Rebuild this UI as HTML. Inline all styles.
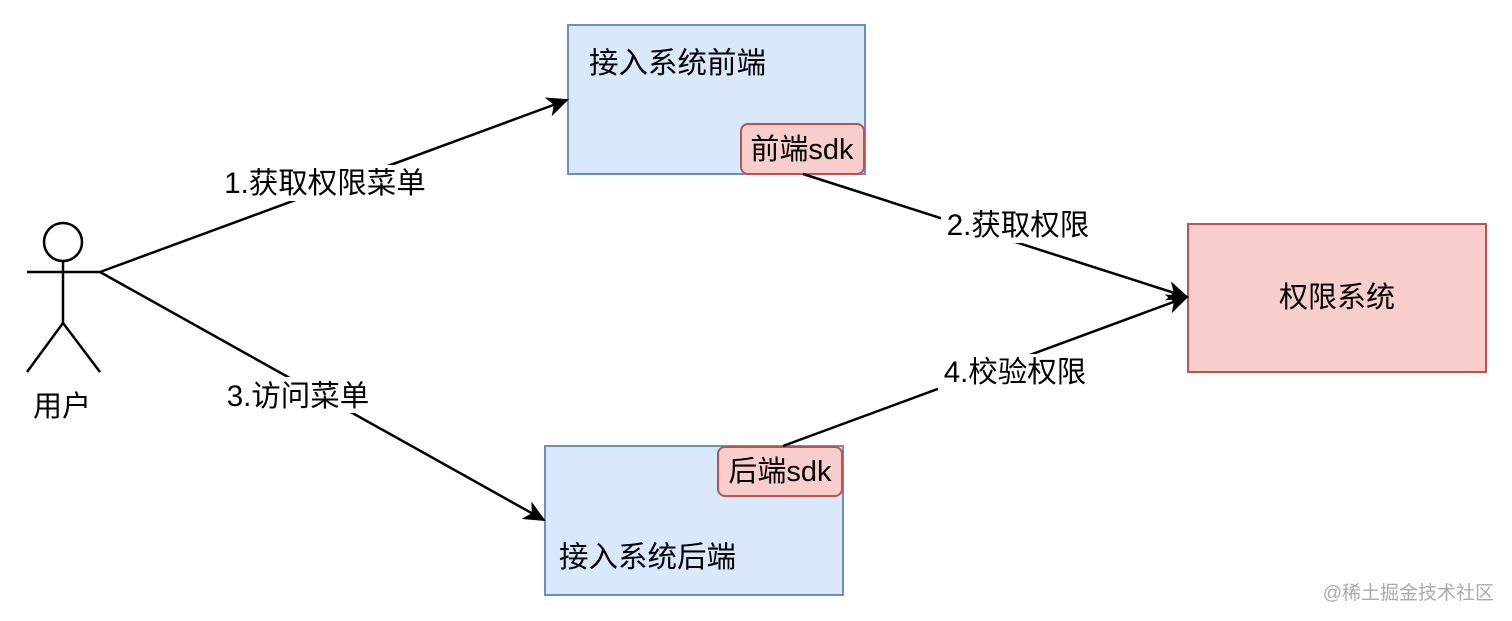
<!DOCTYPE html>
<html><head><meta charset="utf-8"><style>
html,body{margin:0;padding:0;background:#fff;}
svg{display:block;}
text{font-family:"Liberation Sans","Noto Sans CJK SC",sans-serif;}
</style></head><body>
<svg width="1512" height="621" viewBox="0 0 1512 621" xmlns="http://www.w3.org/2000/svg">
<defs>
<marker id="a" markerWidth="22" markerHeight="20" refX="20" refY="10" orient="auto" markerUnits="userSpaceOnUse" viewBox="0 0 22 20">
<path d="M0,0 L22,10 L0,20 L6,10 z" fill="#000"/>
</marker>
</defs>
<rect width="1512" height="621" fill="#fff"/>
<g stroke="#000" stroke-width="2.5" fill="none">
<circle cx="63" cy="242" r="19" fill="#fff"/>
<line x1="63" y1="261" x2="63" y2="323"/>
<line x1="27" y1="272" x2="100" y2="272"/>
<line x1="63" y1="323" x2="27" y2="372"/>
<line x1="63" y1="323" x2="100" y2="372"/>
</g>
<text x="62" y="416" font-size="29" text-anchor="middle">用户</text>
<rect x="568" y="25" width="297" height="149" fill="#dae8fc" stroke="#6c8ebf" stroke-width="2"/>
<text x="589" y="73" font-size="29.5">接入系统前端</text>
<rect x="741" y="124" width="123" height="50" rx="7" fill="#f8cecc" stroke="#b85450" stroke-width="2"/>
<text x="802" y="159" font-size="29" text-anchor="middle">前端sdk</text>
<rect x="545" y="446" width="298" height="149" fill="#dae8fc" stroke="#6c8ebf" stroke-width="2"/>
<text x="559" y="567" font-size="29.5">接入系统后端</text>
<rect x="718" y="447" width="124" height="49" rx="7" fill="#f8cecc" stroke="#b85450" stroke-width="2"/>
<text x="780" y="481" font-size="29" text-anchor="middle">后端sdk</text>
<rect x="1188" y="224" width="298" height="148" fill="#f8cecc" stroke="#b85450" stroke-width="2"/>
<text x="1337" y="307" font-size="29" text-anchor="middle">权限系统</text>
<g stroke="#000" stroke-width="2.5" fill="none">
<line x1="100" y1="272" x2="567" y2="100" marker-end="url(#a)" />
<line x1="100" y1="272" x2="544" y2="520" marker-end="url(#a)" />
<line x1="803" y1="174" x2="1187" y2="297" marker-end="url(#a)" />
<line x1="783" y1="446" x2="1187" y2="297" marker-end="url(#a)" />
</g>
<rect x="220" y="165" width="210" height="36" fill="#fff"/>
<text x="325" y="193" font-size="29.5" text-anchor="middle">1.获取权限菜单</text>
<rect x="222" y="377" width="152" height="36" fill="#fff"/>
<text x="298" y="406" font-size="29.5" text-anchor="middle">3.访问菜单</text>
<rect x="941" y="207" width="154" height="36" fill="#fff"/>
<text x="1018" y="235" font-size="29.5" text-anchor="middle">2.获取权限</text>
<rect x="938" y="354" width="154" height="36" fill="#fff"/>
<text x="1015" y="382" font-size="29.5" text-anchor="middle">4.校验权限</text>
<text x="1494" y="599" font-size="19" fill="#aaa" text-anchor="end">@稀土掘金技术社区</text>
</svg>
</body></html>
